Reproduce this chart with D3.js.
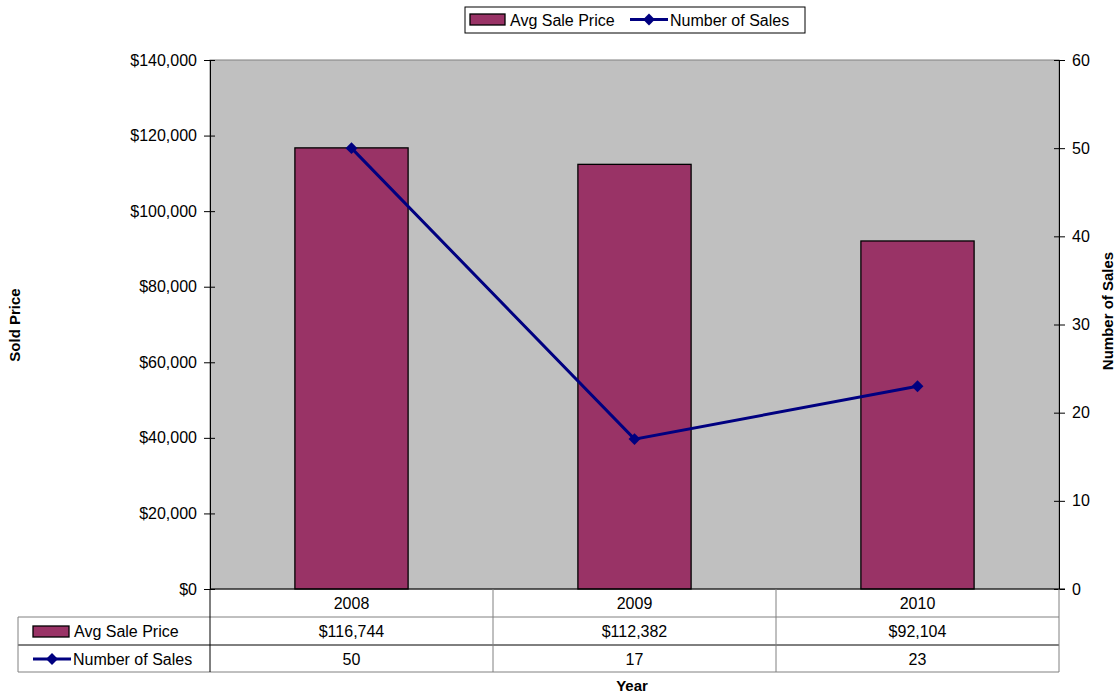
<!DOCTYPE html>
<html>
<head>
<meta charset="utf-8">
<script src="https://d3js.org/d3.v7.min.js"></script>
<style>
  body { margin: 0; background: #fff; }
  text { font-family: "Liberation Sans", Arial, sans-serif; }
</style>
</head>
<body>
<script>
// chart values
var years = ["2008", "2009", "2010"];
var avgPrice = [116744, 112382, 92104];
var numSales = [50, 17, 23];
var priceTicks = [0, 20000, 40000, 60000, 80000, 100000, 120000, 140000];
var salesTicks = [0, 10, 20, 30, 40, 50, 60];
var seriesNames = ["Avg Sale Price", "Number of Sales"];

var W = 1118, H = 694;
var pLeft = 210, pRight = 1059, pTop = 60, pBottom = 589;
var rowH = 28;

var svg = d3.select("body").append("svg")
    .attr("width", W).attr("height", H);

var x = d3.scaleBand().domain(years).range([pLeft, pRight]).padding(0);
var yL = d3.scaleLinear().domain([0, 140000]).range([pBottom, pTop]);
var yR = d3.scaleLinear().domain([0, 60]).range([pBottom, pTop]);

var barColor = "#993366", lineColor = "#000080";
var fmtPrice = function(d) { return "$" + d3.format(",")(d); };

// plot area
svg.append("rect")
    .attr("x", pLeft).attr("y", pTop)
    .attr("width", pRight - pLeft).attr("height", pBottom - pTop)
    .attr("fill", "#c0c0c0").attr("stroke", "#808080");

// bars
var bw = x.bandwidth() * 0.4;
svg.selectAll(".bar").data(years).enter().append("rect")
    .attr("class", "bar")
    .attr("x", function(d) { return x(d) + (x.bandwidth() - bw) / 2; })
    .attr("y", function(d, i) { return yL(avgPrice[i]); })
    .attr("width", bw)
    .attr("height", function(d, i) { return pBottom - yL(avgPrice[i]); })
    .attr("fill", barColor).attr("stroke", "#000").attr("stroke-width", 1.3);

// line
var cx = function(d) { return x(d) + x.bandwidth() / 2; };
var line = d3.line()
    .x(function(d) { return cx(d); })
    .y(function(d, i) { return yR(numSales[i]); });
svg.append("path").datum(years)
    .attr("d", line).attr("fill", "none")
    .attr("stroke", lineColor).attr("stroke-width", 3);

var diamond = d3.symbol().type(d3.symbolDiamond2).size(90);
svg.selectAll(".pt").data(years).enter().append("path")
    .attr("d", diamond)
    .attr("transform", function(d, i) { return "translate(" + cx(d) + "," + yR(numSales[i]) + ")"; })
    .attr("fill", lineColor);

// left axis
var gL = svg.append("g").attr("transform", "translate(" + pLeft + ",0)")
    .call(d3.axisLeft(yL).tickValues(priceTicks).tickFormat(fmtPrice).tickSizeOuter(0).tickSizeInner(6).tickPadding(7));
gL.selectAll(".tick line").attr("x1", -6).attr("x2", 5);
gL.selectAll("text").attr("font-size", 16).attr("fill", "#000").style("font-family", "Liberation Sans, Arial, sans-serif");
gL.select(".domain").attr("stroke", "#000");

// right axis
var gR = svg.append("g").attr("transform", "translate(" + pRight + ",0)")
    .call(d3.axisRight(yR).tickValues(salesTicks).tickSizeOuter(0).tickSizeInner(6).tickPadding(7));
gR.selectAll(".tick line").attr("x1", -5).attr("x2", 6);
gR.selectAll("text").attr("font-size", 16).attr("fill", "#000").style("font-family", "Liberation Sans, Arial, sans-serif");
gR.select(".domain").attr("stroke", "#000");

// bottom axis line
svg.append("line").attr("x1", pLeft).attr("x2", pRight + 6)
    .attr("y1", pBottom).attr("y2", pBottom).attr("stroke", "#000");

// data table
var tbl = svg.append("g");
var tl = 18;
var r1 = pBottom + rowH, r2 = pBottom + rowH * 2, r3 = pBottom + rowH * 3 - 1;
tbl.append("line").attr("x1", tl).attr("x2", pRight).attr("y1", r1).attr("y2", r1).attr("stroke", "#808080");
tbl.append("line").attr("x1", tl).attr("x2", pRight).attr("y1", r2).attr("y2", r2).attr("stroke", "#000");
tbl.append("line").attr("x1", tl).attr("x2", pRight).attr("y1", r3).attr("y2", r3).attr("stroke", "#808080");
tbl.append("line").attr("x1", tl).attr("x2", tl).attr("y1", r1).attr("y2", r3).attr("stroke", "#808080");
tbl.append("line").attr("x1", pLeft).attr("x2", pLeft).attr("y1", pBottom).attr("y2", r3).attr("stroke", "#000");
tbl.selectAll(".vl").data(years.slice(1)).enter().append("line")
    .attr("x1", function(d) { return x(d); }).attr("x2", function(d) { return x(d); })
    .attr("y1", pBottom).attr("y2", r3).attr("stroke", "#808080");
tbl.append("line").attr("x1", pRight).attr("x2", pRight).attr("y1", pBottom).attr("y2", r3).attr("stroke", "#808080");

var cellText = function(rowTop, vals) {
  tbl.selectAll(null).data(years).enter().append("text")
      .attr("x", function(d) { return cx(d); })
      .attr("y", rowTop + 20)
      .attr("text-anchor", "middle").attr("font-size", 16)
      .text(function(d, i) { return vals[i]; });
};
cellText(pBottom, years);
cellText(r1, avgPrice.map(fmtPrice));
cellText(r2, numSales.map(String));

// row labels with keys
tbl.append("rect").attr("x", 33).attr("y", r1 + 9).attr("width", 36).attr("height", 11)
    .attr("fill", barColor).attr("stroke", "#000").attr("stroke-width", 1.3);
tbl.append("text").attr("x", 74).attr("y", r1 + 20).attr("font-size", 16).text(seriesNames[0]);
tbl.append("line").attr("x1", 33).attr("x2", 71).attr("y1", r2 + 14).attr("y2", r2 + 14)
    .attr("stroke", lineColor).attr("stroke-width", 3);
tbl.append("path").attr("d", diamond).attr("transform", "translate(52," + (r2 + 14) + ")").attr("fill", lineColor);
tbl.append("text").attr("x", 73).attr("y", r2 + 20).attr("font-size", 16).text(seriesNames[1]);

// axis titles
svg.append("text").attr("x", 632).attr("y", 691).attr("text-anchor", "middle")
    .attr("font-size", 15).attr("font-weight", "bold").text("Year");
svg.append("text").attr("transform", "translate(20,325) rotate(-90)").attr("text-anchor", "middle")
    .attr("font-size", 15).attr("font-weight", "bold").text("Sold Price");
svg.append("text").attr("transform", "translate(1113,311) rotate(-90)").attr("text-anchor", "middle")
    .attr("font-size", 15).attr("font-weight", "bold").text("Number of Sales");

// legend
var lg = svg.append("g");
lg.append("rect").attr("x", 465).attr("y", 7).attr("width", 340).attr("height", 26)
    .attr("fill", "#fff").attr("stroke", "#000");
lg.append("rect").attr("x", 470).attr("y", 14).attr("width", 35).attr("height", 11)
    .attr("fill", barColor).attr("stroke", "#000").attr("stroke-width", 1.3);
lg.append("text").attr("x", 510).attr("y", 26).attr("font-size", 16).text(seriesNames[0]);
lg.append("line").attr("x1", 630).attr("x2", 668).attr("y1", 19.5).attr("y2", 19.5)
    .attr("stroke", lineColor).attr("stroke-width", 3);
lg.append("path").attr("d", diamond).attr("transform", "translate(649,19.5)").attr("fill", lineColor);
lg.append("text").attr("x", 670).attr("y", 26).attr("font-size", 16).text(seriesNames[1]);
</script>
</body>
</html>
